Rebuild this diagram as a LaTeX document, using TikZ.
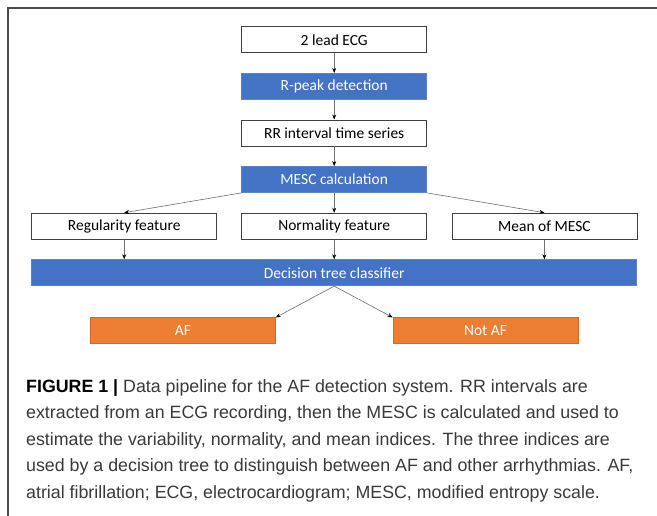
\documentclass[tikz,border=0pt]{standalone}
\usepackage{fontspec}
\usetikzlibrary{arrows.meta}
\newfontfamily\boxfont{Carlito}
\newfontfamily\capfont{Liberation Sans}
\definecolor{officeblue}{HTML}{4472C4}
\definecolor{blueedge}{HTML}{5A84CC}
\definecolor{officeorange}{HTML}{ED7D31}
\definecolor{orangeedge}{HTML}{D2692A}
\definecolor{boxedge}{HTML}{404040}
\definecolor{framegray}{HTML}{4A4A4A}
\definecolor{captiongray}{HTML}{3A3A3A}
\definecolor{linkgray}{HTML}{707070}
\tikzset{
  basebox/.style={rectangle, inner sep=0pt, minimum width=185pt, minimum height=26pt,
    line width=0.8pt, font=\boxfont\fontsize{15.5}{18}\selectfont},
  wbox/.style={basebox, draw=boxedge, fill=white, text=black},
  bbox/.style={basebox, draw=blueedge, fill=officeblue, text=white},
  obox/.style={basebox, draw=orangeedge, fill=officeorange, text=white},
  link/.style={draw=linkgray, line width=0.6pt, -{Stealth[length=5pt,width=4pt,black]}},
  capline/.style={anchor=base west, inner sep=0pt, text=captiongray,
    font=\capfont\fontsize{17.8}{20}\selectfont}
}
\begin{document}
\begin{tikzpicture}[x=1pt,y=-1pt]
\useasboundingbox (0,0) rectangle (657,515);
\fill[white] (0,0) rectangle (657,515);
\draw[framegray, line width=1.5pt] (8,516) -- (8,8) -- (658,8);

\node[wbox] (ecg) at (334.2,39.7) {2 lead ECG};
\node[bbox] (rpeak) at (334.2,86.3) {R-peak detection};
\node[wbox] (rr) at (334.2,132.9) {RR interval time series};
\node[bbox] (mesc) at (334.2,179.5) {MESC calculation};
\node[wbox] (reg) at (124.2,226.1) {Regularity feature};
\node[wbox] (norm) at (334.2,226.1) {Normality feature};
\node[wbox] (mean) at (544.4,226.1) {Mean of MESC};
\node[bbox, minimum width=605pt] (dt) at (334.2,272.7) {Decision tree classifier};
\node[obox] (af) at (182.9,330.8) {AF};
\node[obox] (naf) at (485.5,330.8) {Not AF};

\draw[link] (ecg) -- (rpeak);
\draw[link] (rpeak) -- (rr);
\draw[link] (rr) -- (mesc);
\draw[link] (mesc.south west) -- (reg.north);
\draw[link] (mesc) -- (norm);
\draw[link] (mesc.south east) -- (mean.north);
\draw[link] (reg) -- (reg |- dt.north);
\draw[link] (norm) -- (dt);
\draw[link] (mean) -- (mean |- dt.north);
\draw[link] (dt.south) -- (af.north east);
\draw[link] (dt.south) -- (naf.north west);

\node[capline] (c1) at (26,392) {{\color{black}\bfseries FIGURE 1 |} Data pipeline for the AF detection system. RR intervals are};
\node[capline] (c2) at (26,418.5) {extracted from an ECG recording, then the MESC is calculated and used to};
\node[capline] (c3) at (26,445) {estimate the variability, normality, and mean indices. The three indices are};
\node[capline] (c4) at (26,471.5) {used by a decision tree to distinguish between AF and other arrhythmias. AF,};
\node[capline] (c5) at (26,498) {atrial fibrillation; ECG, electrocardiogram; MESC, modified entropy scale.};
\end{tikzpicture}
\end{document}
